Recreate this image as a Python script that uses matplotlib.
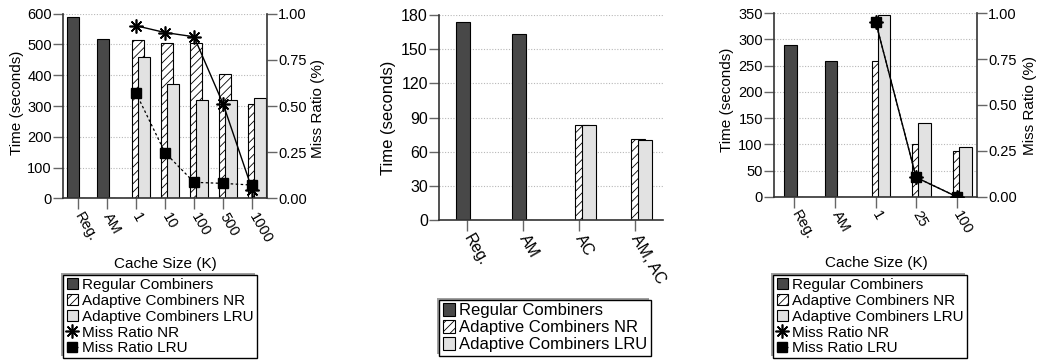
import matplotlib
matplotlib.use('Agg')
import matplotlib.pyplot as plt
import numpy as np
from matplotlib.patches import Patch, Rectangle
from matplotlib.lines import Line2D

plt.rcParams['font.family'] = ['Liberation Sans', 'DejaVu Sans']

# left chart
cats1 = ['Reg.', 'AM', '1', '10', '100', '500', '1000']
reg1 = [588, 518, 0, 0, 0, 0, 0]
nr1 = [0, 0, 515, 505, 505, 405, 307]
lru1 = [0, 0, 460, 370, 321, 321, 327]
miss_nr1 = [0.935, 0.898, 0.875, 0.51, 0.045]
miss_lru1 = [0.573, 0.248, 0.087, 0.081, 0.072]

# middle chart
cats2 = ['Reg.', 'AM', 'AC', 'AM, AC']
reg2 = [174, 163, 0, 0]
nr2 = [0, 0, 83.5, 71.5]
lru2 = [0, 0, 83, 70.5]

# right chart
cats3 = ['Reg.', 'AM', '1', '25', '100']
reg3 = [289, 259, 0, 0, 0]
nr3 = [0, 0, 259, 100, 88]
lru3 = [0, 0, 346, 140, 95]
miss_nr3 = [0.955, 0.105, 0.0]
miss_lru3 = [0.955, 0.105, 0.0]

C_REG = '#484848'
C_LRU = '#e2e2e2'
SPINE = '#333333'
TICKC = '#666666'

plt.rcParams['hatch.linewidth'] = 0.6

fig = plt.figure(figsize=(10.39, 3.6), dpi=100)
legends = []


def bars(ax, cats, reg, nr, lru, w, c0, fs):
    x = np.arange(len(cats))
    ax.bar(x + c0, reg, w, color=C_REG, edgecolor='black', linewidth=0.8, zorder=2)
    ax.bar(x + c0 + w / 2, nr, w, color='white', edgecolor='black', hatch='////', linewidth=0.8, zorder=2)
    ax.bar(x + c0 + w, lru, w, color=C_LRU, edgecolor='black', linewidth=0.8, zorder=2)
    ax.set_xlim(-0.5, len(cats) - 0.5)
    ax.set_xticks(x)
    ax.set_xticklabels(cats, rotation=-60, ha='left', va='center', rotation_mode='anchor', fontsize=fs)
    ax.yaxis.grid(True, linestyle=(0, (1, 1.5)), color='#b8b8b8', linewidth=0.8, zorder=0)
    ax.set_axisbelow(True)
    ax.spines['top'].set_visible(False)
    ax.spines['right'].set_visible(False)
    for s in ['left', 'bottom']:
        ax.spines[s].set_color(SPINE)
        ax.spines[s].set_linewidth(1.2)
    ax.tick_params(axis='x', length=8, width=1, color=TICKC, pad=3)
    ax.tick_params(axis='y', length=7, width=1, color=TICKC, pad=1, labelsize=fs)


def miss_axis(ax, n, nr, lru, fs):
    ax2 = ax.twinx()
    xs = np.arange(len(lru)) + n
    ax2.plot(xs, lru, color='black', linestyle=(0, (2, 2)), linewidth=0.9, marker='s', markersize=7, zorder=3)
    ax2.plot(xs, nr, color='black', linewidth=1.0, marker=(8, 2, 0), markersize=10, markeredgewidth=1.2, zorder=4)
    ax2.set_ylim(0, 1)
    ax2.set_yticks([0, 0.25, 0.5, 0.75, 1.0])
    ax2.set_yticklabels(['0.00', '0.25', '0.50', '0.75', '1.00'], fontsize=fs)
    ax2.spines['top'].set_visible(False)
    ax2.spines['left'].set_visible(False)
    ax2.spines['bottom'].set_visible(False)
    ax2.spines['right'].set_color(SPINE)
    ax2.spines['right'].set_linewidth(1.2)
    ax2.tick_params(axis='y', length=7, width=1, color=TICKC, pad=1)
    return ax2


def legend(loc, full, fs):
    h = [Patch(facecolor=C_REG, edgecolor='black', linewidth=0.8),
         Patch(facecolor='white', edgecolor='black', hatch='////', linewidth=0.8),
         Patch(facecolor=C_LRU, edgecolor='black', linewidth=0.8)]
    l = ['Regular Combiners', 'Adaptive Combiners NR', 'Adaptive Combiners LRU']
    if full:
        h += [Line2D([], [], color='black', marker=(8, 2, 0), markersize=10, markeredgewidth=1.2, linewidth=0),
              Line2D([], [], color='black', marker='s', markersize=7, linestyle=(0, (2, 2)), linewidth=0.9)]
        l += ['Miss Ratio NR', 'Miss Ratio LRU']
    lg = fig.legend(h, l, loc='upper center', bbox_to_anchor=loc, fontsize=fs, frameon=True,
                    fancybox=False, framealpha=1, handlelength=0.75, handleheight=0.75, handletextpad=0.25,
                    labelspacing=0.12, borderpad=0.2, borderaxespad=0)
    lg.get_frame().set_edgecolor('black')
    lg.get_frame().set_linewidth(1.0)
    lg.set_zorder(5)
    legends.append(lg)


# left
ax1 = fig.add_axes([0.0606, 0.449, 0.1963, 0.513])
bars(ax1, cats1, reg1, nr1, lru1, 0.41, -0.14, 10.5)
ax1.set_ylim(0, 600)
ax1.set_yticks(range(0, 601, 100))
miss_axis(ax1, 2, miss_nr1, miss_lru1, 10.5)
fig.text(17 / 1039, 1 - 103 / 360, 'Time (seconds)', rotation=90, ha='center', va='center', fontsize=11)
fig.text(318 / 1039, 1 - 108 / 360, 'Miss Ratio (%)', rotation=90, ha='center', va='center', fontsize=11)
fig.text(165 / 1039, 1 - 264 / 360, 'Cache Size (K)', ha='center', va='center', fontsize=11)
legend((160 / 1039, 1 - 275 / 360), True, 11)

# middle
ax_m = fig.add_axes([0.4225, 0.3889, 0.2156, 0.5694])
bars(ax_m, cats2, reg2, nr2, lru2, 0.25, -0.07, 11.5)
ax_m.set_ylim(0, 180)
ax_m.set_yticks(range(0, 181, 30))
fig.text(388 / 1039, 1 - 118 / 360, 'Time (seconds)', rotation=90, ha='center', va='center', fontsize=12)
legend((545 / 1039, 1 - 300 / 360), False, 12)

# right
ax3 = fig.add_axes([0.745, 0.4536, 0.1954, 0.5095])
bars(ax3, cats3, reg3, nr3, lru3, 0.31, -0.10, 10.5)
ax3.set_ylim(0, 350)
ax3.set_yticks(range(0, 351, 50))
miss_axis(ax3, 2, miss_nr3, miss_lru3, 10.5)
fig.text(727 / 1039, 1 - 100 / 360, 'Time (seconds)', rotation=90, ha='center', va='center', fontsize=11)
fig.text(1030 / 1039, 1 - 105 / 360, 'Miss Ratio (%)', rotation=90, ha='center', va='center', fontsize=11)
fig.text(876 / 1039, 1 - 263 / 360, 'Cache Size (K)', ha='center', va='center', fontsize=11)
legend((870 / 1039, 1 - 275 / 360), True, 11)

# grey shadow up-left of each legend box
fig.canvas.draw()
W, H = fig.bbox.width, fig.bbox.height
for lg in legends:
    bb = lg.get_window_extent()
    fig.patches.append(Rectangle(((bb.x0 - 2) / W, (bb.y0 + 2) / H), bb.width / W, bb.height / H,
                                 transform=fig.transFigure, facecolor='#a0a0a0', edgecolor='none', zorder=4))

fig.savefig('out.png', dpi=100)
